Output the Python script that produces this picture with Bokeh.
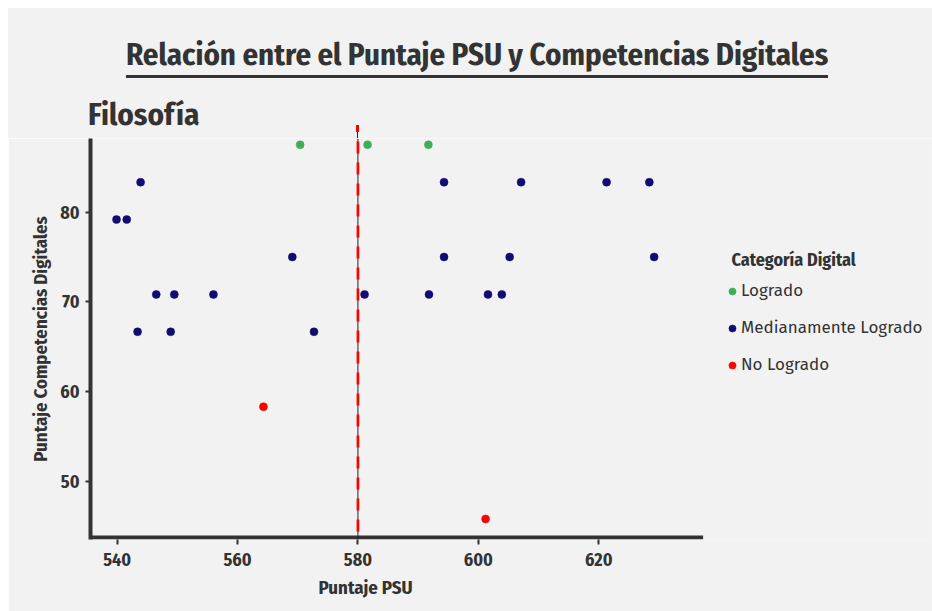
from bokeh.plotting import figure
from bokeh.layouts import column
from bokeh.models import (Range1d, FixedTicker, Legend, LegendItem, ColumnDataSource, Div,
                          Label, Title)
from bokeh.embed import file_html
from bokeh.resources import INLINE

# ---------------- data ----------------
categorias = ["Logrado", "Medianamente Logrado", "No Logrado"]

psu_logrado = [570.4, 581.6, 591.7]
comp_logrado = [87.50, 87.50, 87.50]

psu_medio = [543.9, 594.3, 607.1, 621.3, 628.4,
             539.9, 541.6,
             569.1, 594.3, 605.2, 629.2,
             546.5, 549.5, 556.0, 581.1, 591.8, 601.6, 603.9,
             543.4, 548.9, 572.7]
comp_medio = [83.33, 83.33, 83.33, 83.33, 83.33,
              79.17, 79.17,
              75.00, 75.00, 75.00, 75.00,
              70.83, 70.83, 70.83, 70.83, 70.83, 70.83, 70.83,
              66.67, 66.67, 66.67]

psu_no = [564.3, 601.2]
comp_no = [58.33, 45.83]

umbral_psu = 580
x_ticks = [540, 560, 580, 600, 620]
y_ticks = [50, 60, 70, 80]

titulo = "Relación entre el Puntaje PSU y Competencias Digitales"
subtitulo = "Filosofía"
x_label = "Puntaje PSU"
y_label = "Puntaje Competencias Digitales"
legend_title = "Categoría Digital"

# ---------------- style ----------------
BG = "#f2f2f2"
INK = "#333333"
COLORS = ["#3fae57", "#120c72", "#ff0000"]
COND = "Fira Sans Condensed"
REG = "Fira Sans"

W = 924
H_TOP = 130
H_MAIN = 603 - H_TOP
B_LEFT, B_RIGHT, B_TOP, B_BOTTOM = 82, 2, 0, 72

# panel: x axis line runs from the y axis to X_AXIS_END; the frame extends
# further right so that the legend can sit inside it.
X_RANGE = (535.58, 675.1)
Y_RANGE = (43.54, 88.196)
X_AXIS_END = 637.33
Y_AXIS_AT = 43.764

# where the threshold line falls horizontally (from the plot's own range)
frame_w = W - B_LEFT - B_RIGHT
vline_px = B_LEFT + (umbral_psu - X_RANGE[0]) / (X_RANGE[1] - X_RANGE[0]) * frame_w

# ---------------- header (title with underline, subtitle) ----------------
header_html = f"""
<div style="position:relative;width:{W}px;height:{H_TOP}px;background:{BG};
            font-family:'{COND}';font-weight:bold;color:{INK};overflow:hidden;">
  <div style="position:absolute;left:118px;top:31px;font-size:30.8px;line-height:31px;
              white-space:nowrap;padding-bottom:5px;border-bottom:3px solid {INK};">{titulo}</div>
  <div style="position:absolute;left:80px;top:91px;font-size:31px;line-height:31px;
              white-space:nowrap;">{subtitulo}</div>
  <div style="position:absolute;left:{vline_px - 0.5:.1f}px;top:117px;width:1px;height:13px;
              background:#222222;"></div>
  <div style="position:absolute;left:{vline_px - 1.35:.1f}px;top:117px;width:2.7px;height:6.7px;
              background:#ff0000;"></div>
</div>
"""
head = Div(text=header_html, width=W, height=H_TOP, margin=(8, 0, 0, 8),
           styles={"background-color": BG})

# ---------------- main scatter ----------------
p = figure(width=W, height=H_MAIN, output_backend="svg", toolbar_location=None,
           x_range=Range1d(*X_RANGE), y_range=Range1d(*Y_RANGE),
           min_border_left=B_LEFT, min_border_right=B_RIGHT, min_border_top=B_TOP,
           min_border_bottom=B_BOTTOM, margin=(0, 0, 0, 8))
p.background_fill_color = BG
p.border_fill_color = BG
p.outline_line_color = None
p.grid.visible = False

for ax in (p.xaxis[0], p.yaxis[0]):
    ax.axis_line_color = INK
    ax.axis_line_width = 4
    ax.major_tick_line_color = INK
    ax.major_tick_line_width = 2
    ax.major_tick_out = 5
    ax.major_tick_in = 0
    ax.minor_tick_line_color = None
    ax.major_label_text_font = COND
    ax.major_label_text_font_style = "bold"
    ax.major_label_text_font_size = "18px"
    ax.major_label_text_color = INK
    ax.axis_label_text_font = COND
    ax.axis_label_text_font_style = "bold"
    ax.axis_label_text_font_size = "18.8px"
    ax.axis_label_text_color = INK

p.xaxis[0].axis_line_color = None          # drawn below, only up to the panel end
p.xaxis[0].ticker = FixedTicker(ticks=x_ticks)
p.yaxis[0].ticker = FixedTicker(ticks=y_ticks)
p.yaxis[0].axis_label = y_label
p.xaxis[0].major_label_standoff = 8
p.yaxis[0].major_label_standoff = 6
p.yaxis[0].axis_label_standoff = 5

# x axis title, placed under the panel
p.add_layout(Title(text=x_label, align="left", offset=228, vertical_align="top", standoff=14,
                   text_font=COND, text_font_style="bold", text_font_size="18.8px",
                   text_color=INK), "below")

# x axis line
p.segment(x0=[p.x_range.start], y0=[Y_AXIS_AT], x1=[X_AXIS_END], y1=[Y_AXIS_AT],
          line_color=INK, line_width=4)

series = [(psu_logrado, comp_logrado), (psu_medio, comp_medio), (psu_no, comp_no)]
renderers = []
for (xs, ys), col in zip(series, COLORS):
    src = ColumnDataSource(dict(x=xs, y=ys))
    r = p.scatter("x", "y", source=src, size=8, fill_color=col, line_color=col, line_width=0.5)
    renderers.append(r)

# threshold line (thin black line with red dashes on top)
p.segment(x0=[umbral_psu], y0=[p.y_range.end], x1=[umbral_psu], y1=[p.y_range.start],
          line_color="#222222", line_width=1)
p.segment(x0=[umbral_psu], y0=[p.y_range.end], x1=[umbral_psu], y1=[p.y_range.start],
          line_color="#ff0000", line_width=2.7, line_dash="12 9", line_dash_offset=18)

legend = Legend(items=[LegendItem(label=c, renderers=[r]) for c, r in zip(categorias, renderers)],
                location=(633, 164), orientation="vertical",
                glyph_width=18, glyph_height=20, label_height=20, spacing=16,
                label_standoff=0, padding=0, margin=0,
                background_fill_alpha=0, border_line_color=None,
                label_text_font=REG, label_text_font_size="17px", label_text_color=INK)
p.add_layout(legend)
p.add_layout(Label(x=641, y=279.7, x_units="screen", y_units="screen", text=legend_title,
                   text_font=COND, text_font_style="bold", text_font_size="18px",
                   text_color=INK, text_baseline="alphabetic"))

layout = column(head, p, spacing=0)
open("out.html", "w").write(file_html(layout, INLINE))
